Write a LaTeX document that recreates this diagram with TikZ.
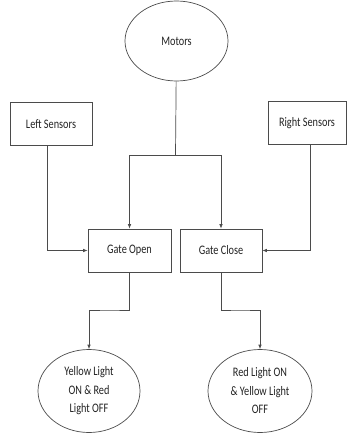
\documentclass[tikz,border=0pt]{standalone}
\usepackage{fontspec}
\setmainfont{Carlito}[FakeStretch=0.79]
\usepackage{xcolor}
\usepackage{tikz}
\usetikzlibrary{shapes.geometric,arrows.meta}
\definecolor{linegray}{RGB}{75, 75, 75}
\definecolor{textgray}{RGB}{35, 35, 35}

\begin{document}
\begin{tikzpicture}[x=1pt, y=-1pt, line width=0.7pt,
            box/.style  = {draw=linegray, text=textgray, rectangle, inner sep=0pt, minimum height=43pt, font=\fontsize{13}{18.5}\selectfont},
            oval/.style = {draw=linegray, text=textgray, ellipse, inner sep=0pt, align=center, font=\fontsize{13}{18.5}\selectfont},
            wire/.style = {draw=linegray},
            flow/.style = {draw=linegray, -{Latex[length=4.5pt,width=3.5pt]}}]
        \useasboundingbox (0,0) rectangle (346,433);
        % top row
        \node[oval, minimum width=103pt, minimum height=80pt] (motors) at (176.5,41) {Motors};
        \node[box, minimum width=82pt] (leftsensors) at (51,124) {Left Sensors};
        \node[box, minimum width=78pt] (rightsensors) at (307,123) {Right Sensors};
        % gates
        \node[box, minimum width=83pt] (gateopen) at (129.5,250.5) {Gate Open};
        \node[box, minimum width=82pt] (gateclose) at (221,250.5) {Gate Close};
        % lights
        \node[oval, minimum width=102pt, minimum height=83pt] (yellowon) at (89,391) {Yellow Light\\ON \& Red\\Light OFF};
        \node[oval, minimum width=104pt, minimum height=83pt] (redon) at (260,391) {Red Light ON\\\& Yellow Light\\OFF};
        \coordinate (split) at (175.5,155);
        \coordinate (kneeL) at (110,310);
        \coordinate (kneeR) at (240,310);

        \draw[wire] (motors) -- (split);
        \draw[flow] (split) -| (gateopen);
        \draw[flow] (split) -| (gateclose);
        \draw[flow] ([xshift=-4pt]leftsensors.south) |- (gateopen);
        \draw[flow] ([xshift=3pt]rightsensors.south) |- (gateclose);
        \draw[flow] (gateopen) |- (kneeL) -| (yellowon);
        \draw[flow] (gateclose) |- (kneeR) -| (redon);
    \end{tikzpicture}
\end{document}
